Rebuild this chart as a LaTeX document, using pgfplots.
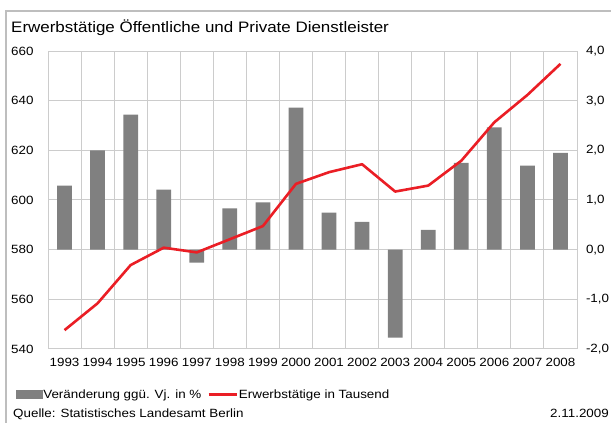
\documentclass[border=0pt]{standalone}
\usepackage{fontspec}
\setmainfont{Liberation Sans}[FakeStretch=1.12]
\usepackage{pgfplots}
\pgfplotsset{compat=1.18}
\definecolor{bargray}{RGB}{128,128,128}
\definecolor{linered}{RGB}{234,30,37}
\definecolor{gridgray}{RGB}{204,204,204}
\definecolor{framegray}{RGB}{190,190,190}
\begin{document}
\begin{tikzpicture}
\useasboundingbox (0,0) rectangle (611bp,423bp);
\draw[framegray, line width=1.2bp] (6bp,0bp) -- (6bp,412bp) -- (611bp,412bp);
\node[anchor=base west, inner sep=0pt, font=\fontsize{15.2}{18}\selectfont] at (11bp,390.5bp) {Erwerbstätige Öffentliche und Private Dienstleister};
\node[anchor=base west, inner sep=0pt, font=\fontsize{12}{14}\selectfont] at (13bp,6bp) {Quelle: Statistisches Landesamt Berlin};
\node[anchor=base east, inner sep=0pt, font=\fontsize{12}{14}\selectfont] at (609bp,6bp) {2.11.2009};
\pgfplotsset{
  common/.style={
    scale only axis, width=529bp, height=298bp,
    at={(48bp,74bp)}, anchor=south west,
    xmin=-0.5, xmax=15.5,
    xtick={0,...,15},
    major tick length=0pt, minor tick length=0pt,
    /pgf/number format/assume math mode=true,
    tick label style={font=\fontsize{12}{14}\selectfont, text=black},
  }
}
\begin{axis}[common,
  ymin=-2, ymax=4, ytick={-2,-1,0,1,2,3,4},
  yticklabel pos=right,
  yticklabel style={xshift=5.5bp, /pgf/number format/.cd, fixed, fixed zerofill, precision=1, use comma},
  xticklabels={1993,1994,1995,1996,1997,1998,1999,2000,2001,2002,2003,2004,2005,2006,2007,2008},
  xticklabel style={yshift=-6bp},
  minor xtick={-0.5,0.5,...,15.5},
  xmajorgrids=false, xminorgrids=true, ymajorgrids=true,
  grid style={gridgray, line width=1bp},
  minor grid style={gridgray, line width=1bp},
  axis line style={gridgray, line width=1bp},
]
\addplot[ybar, bar width=14.7bp, fill=bargray, draw=none] coordinates {
(0,1.29) (1,2.00) (2,2.72) (3,1.21) (4,-0.26) (5,0.83) (6,0.95) (7,2.86)
(8,0.745) (9,0.56) (10,-1.77) (11,0.40) (12,1.75) (13,2.46) (14,1.69) (15,1.95)
};
\end{axis}
\begin{axis}[common,
  ymin=540, ymax=660, ytick={540,560,...,660},
  yticklabel pos=left,
  yticklabel style={xshift=-11bp},
  xticklabels={},
  axis line style={draw=none},
  legend columns=2,
  legend style={draw=none, fill=none, at={(-0.061,-0.153)}, anchor=west, inner sep=0pt,
    nodes={inner sep=1bp, font=\fontsize{12}{14}\selectfont},
    /tikz/every even column/.append style={column sep=5bp}},
  legend cell align=left,
]
\addlegendimage{legend image code/.code={\fill[bargray] (0bp,-4bp) rectangle (26bp,4bp);}}
\addlegendentry{Veränderung ggü. Vj. in \%}
\addplot[linered, line width=2.6bp, line join=round,
  legend image code/.code={\draw[linered, line width=2.6bp] (0bp,0bp) -- (28bp,0bp);}] coordinates {
(0,547.6) (1,558.4) (2,573.8) (3,580.8) (4,578.9) (5,584.2) (6,589.5) (7,606.5)
(8,611.2) (9,614.4) (10,603.4) (11,605.8) (12,615.8) (13,631.3) (14,642.3) (15,654.8)
};
\addlegendentry{Erwerbstätige in Tausend}
\end{axis}
\end{tikzpicture}
\end{document}
